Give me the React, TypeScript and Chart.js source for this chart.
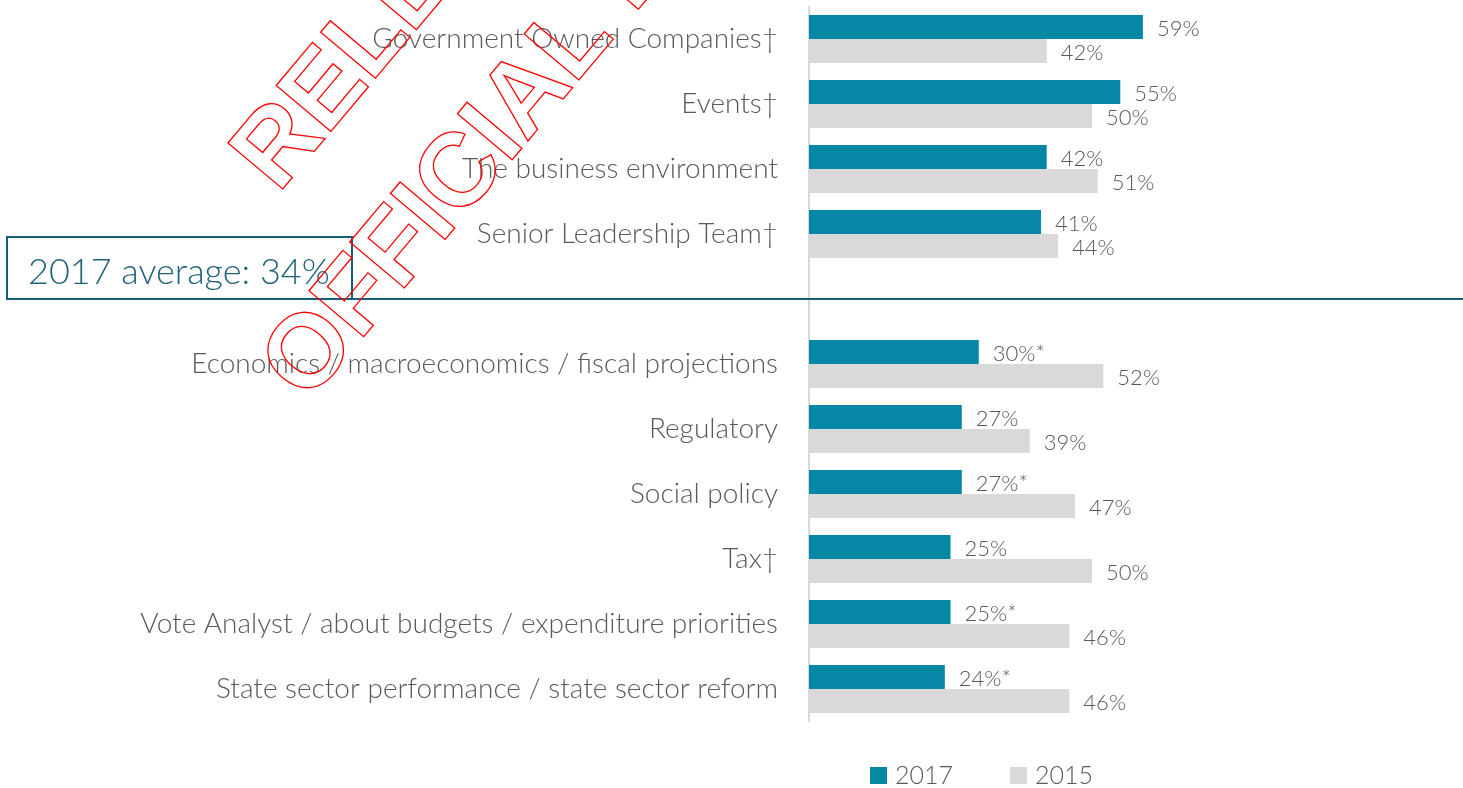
import React, { useEffect, useRef } from "react";
import { Chart, registerables } from "chart.js";

Chart.register(...registerables);

const categories: string[] = [
  "Government Owned Companies†",
  "Events†",
  "The business environment",
  "Senior Leadership Team†",
  "",
  "Economics / macroeconomics / fiscal projections",
  "Regulatory",
  "Social policy",
  "Tax†",
  "Vote Analyst / about budgets / expenditure priorities",
  "State sector performance / state sector reform",
];
const values2017: (number | null)[] = [59, 55, 42, 41, null, 30, 27, 27, 25, 25, 24];
const values2015: (number | null)[] = [42, 50, 51, 44, null, 52, 39, 47, 50, 46, 46];
const marks2017: string[] = ["", "", "", "", "", "*", "", "*", "", "*", "*"];
const marks2015: string[] = ["", "", "", "", "", "", "", "", "", "", ""];
const seriesNames: string[] = ["2017", "2015"];
const averageText = "2017 average: 34%";
const dividerIndex = 4;
const watermarkLines: string[] = ["RELEASED UNDER THE", "OFFICIAL INFORMATION ACT"];

const TEAL = "#0787a6";
const GREY = "#d9d9d9";
const TEXT = "#595959";
const DARK = "#175f77";
const FONT = "Lato, 'Open Sans', sans-serif";

export default function App() {
  const ref = useRef<HTMLCanvasElement | null>(null);

  useEffect(() => {
    document.body.style.margin = "0";
    const canvas = ref.current;
    if (!canvas) return;

    const overlay = {
      id: "overlay",
      afterDatasetsDraw(chart: any) {
        const ctx = chart.ctx as CanvasRenderingContext2D;
        ctx.save();
        ctx.font = `300 22px ${FONT}`;
        ctx.fillStyle = TEXT;
        ctx.textAlign = "left";
        ctx.textBaseline = "middle";
        const marks = [marks2017, marks2015];
        chart.data.datasets.forEach((ds: any, di: number) => {
          const meta = chart.getDatasetMeta(di);
          meta.data.forEach((bar: any, i: number) => {
            const v = ds.data[i];
            if (v === null || v === undefined) return;
            ctx.fillText(`${v}%${marks[di][i]}`, bar.x + 14, bar.y + 2);
          });
        });
        ctx.restore();
      },
      afterDraw(chart: any) {
        const ctx = chart.ctx as CanvasRenderingContext2D;
        const y = chart.scales.y.getPixelForValue(dividerIndex);
        ctx.save();
        // divider line + average box
        ctx.strokeStyle = DARK;
        ctx.lineWidth = 2;
        ctx.beginPath();
        ctx.moveTo(6, y);
        ctx.lineTo(chart.width, y);
        ctx.stroke();
        ctx.strokeRect(7, y - 62, 345, 62);
        ctx.fillStyle = "#1f6378";
        ctx.font = `300 36px ${FONT}`;
        ctx.textAlign = "left";
        ctx.textBaseline = "alphabetic";
        ctx.fillText(averageText, 28, y - 15);

        // legend
        const colors = [TEAL, GREY];
        const lx = [870, 1010];
        ctx.font = `300 25px ${FONT}`;
        ctx.textBaseline = "middle";
        seriesNames.forEach((name, i) => {
          ctx.fillStyle = colors[i];
          ctx.fillRect(lx[i], 767, 17, 17);
          ctx.fillStyle = TEXT;
          ctx.fillText(name, lx[i] + 25, 776);
        });

        // watermark
        ctx.rotate((-50 * Math.PI) / 180);
        ctx.strokeStyle = "#ff0000";
        ctx.lineWidth = 1.3;
        ctx.font = "bold 104px 'Liberation Sans', Arial, sans-serif";
        ctx.textAlign = "left";
        ctx.textBaseline = "alphabetic";
        ctx.strokeText(watermarkLines[0], 30, 338);
        ctx.strokeText(watermarkLines[1], -112, 495);
        ctx.restore();
      },
    };

    const chart = new Chart(canvas, {
      type: "bar",
      data: {
        labels: categories,
        datasets: [
          {
            label: seriesNames[0],
            data: values2017,
            backgroundColor: TEAL,
            categoryPercentage: 0.74,
            barPercentage: 1,
          },
          {
            label: seriesNames[1],
            data: values2015,
            backgroundColor: GREY,
            categoryPercentage: 0.74,
            barPercentage: 1,
          },
        ],
      },
      options: {
        indexAxis: "y",
        responsive: false,
        animation: false,
        layout: { padding: { top: 6.5, bottom: 66.5, left: 0, right: 88 } },
        plugins: {
          legend: { display: false },
          tooltip: { enabled: false },
        },
        scales: {
          x: { display: false, min: 0, max: 100 },
          y: {
            grid: { display: false, drawTicks: false },
            border: { display: true, color: GREY, width: 2 },
            ticks: {
              autoSkip: false,
              padding: 31,
              color: TEXT,
              font: { family: FONT, size: 28, weight: "300" as any },
            },
            afterFit(scale: any) {
              scale.width = 809;
              scale.paddingTop = 0;
              scale.paddingBottom = 0;
            },
          },
        },
      },
      plugins: [overlay],
    });

    return () => chart.destroy();
  }, []);

  return (
    <div style={{ width: 1463, height: 788 }}>
      <canvas ref={ref} width={1463} height={788} style={{ display: "block" }} />
    </div>
  );
}
